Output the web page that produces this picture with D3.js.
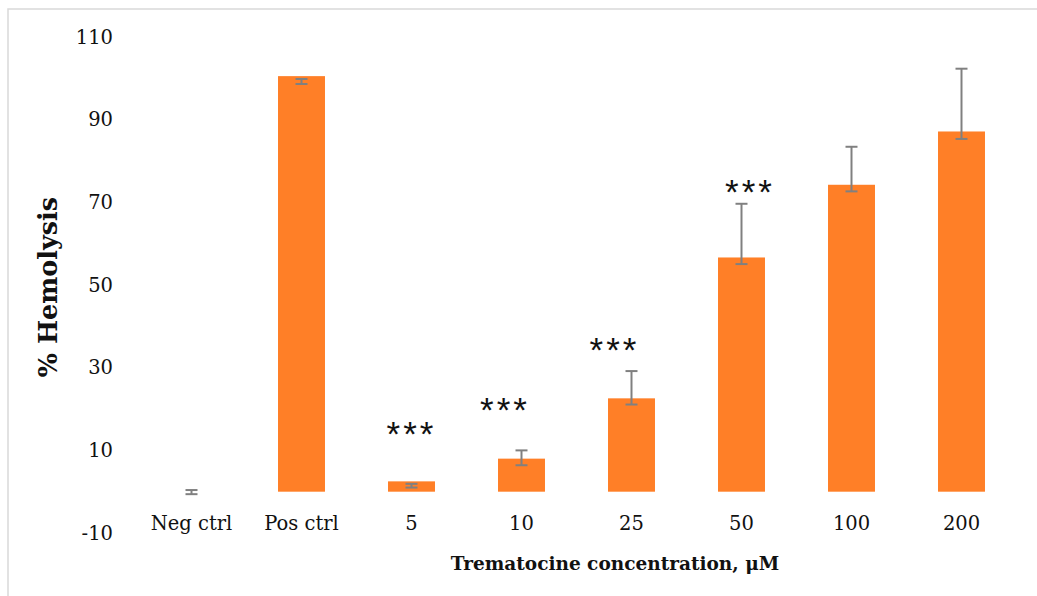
<!DOCTYPE html>
<html><head><meta charset="utf-8">
<script src="https://cdn.jsdelivr.net/npm/d3@7"></script>
<style>body{margin:0;background:#fff}svg{display:block}</style>
</head><body>
<script>
// ---- data ----
const categories = ["Neg ctrl","Pos ctrl","5","10","25","50","100","200"];
const hemolysis  = [0, 100.6, 2.5, 8.0, 22.6, 56.7, 74.3, 87.2];
const errLow     = [-0.6, 98.7, 1.0, 6.4, 21.1, 55.1, 72.7, 85.4];
const errHigh    = [0.4, 99.9, 1.9, 10.0, 29.2, 69.7, 83.5, 102.4];
const yTicks     = [-10, 10, 30, 50, 70, 90, 110];
const starCats   = ["5","10","25","50"];
const starLevel  = [15.0, 20.8, 35.2, 73.6];
const starText   = "***";

const W = 1037, H = 596;
const svg = d3.select("body").append("svg").attr("width", W).attr("height", H);
const font = "'DejaVu Serif', serif";

svg.append("rect").attr("x", 8).attr("y", 9).attr("width", W).attr("height", H)
  .attr("fill", "none").attr("stroke", "#d9d9d9").attr("stroke-width", 1.5);

const x = d3.scaleBand().domain(categories).range([136.5, 1016.5]).paddingInner(0.573).paddingOuter(0.2865);
const y = d3.scaleLinear().domain([-10, 110]).range([533, 37.3]);

// y axis labels
const yAxis = d3.axisLeft(y).tickValues(yTicks).tickSize(0).tickPadding(0).tickFormat(d => String(d));
const ya = svg.append("g").attr("transform", "translate(113,0)").call(yAxis);
ya.select(".domain").remove();
ya.selectAll("text").attr("font-family", font).attr("font-size", 19.5).attr("fill", "#111")
  .attr("dy", null).attr("dominant-baseline", "auto").attr("y", 6);

// x axis labels
const xAxis = d3.axisBottom(x).tickSize(0).tickPadding(0);
const xa = svg.append("g").call(xAxis);
xa.select(".domain").remove();
xa.selectAll("text").attr("font-family", font).attr("font-size", 19.5).attr("fill", "#111")
  .attr("dy", null).attr("y", 530);

// bars
const idx = d3.range(categories.length);
svg.append("g").selectAll("rect").data(idx).join("rect")
  .attr("x", i => x(categories[i]))
  .attr("width", x.bandwidth())
  .attr("y", i => y(Math.max(0, hemolysis[i])))
  .attr("height", i => Math.abs(y(hemolysis[i]) - y(0)))
  .attr("fill", "#FF7F27");

// error bars
const eb = svg.append("g").attr("stroke", "#808080").attr("stroke-width", 2).attr("fill", "none");
const cap = 6;
idx.forEach(i => {
  const cx = x(categories[i]) + x.bandwidth() / 2;
  eb.append("line").attr("x1", cx).attr("x2", cx).attr("y1", y(errLow[i])).attr("y2", y(errHigh[i]));
  eb.append("line").attr("x1", cx - cap).attr("x2", cx + cap).attr("y1", y(errLow[i])).attr("y2", y(errLow[i]));
  eb.append("line").attr("x1", cx - cap).attr("x2", cx + cap).attr("y1", y(errHigh[i])).attr("y2", y(errHigh[i]));
});

// significance stars
const starDx = [-1.5, -18, -18.5, 7];
svg.append("g").selectAll("text").data(starCats).join("text")
  .attr("x", (c, i) => x(c) + x.bandwidth() / 2 + starDx[i] + 1.5)
  .attr("y", (c, i) => y(starLevel[i]) + 16)
  .attr("text-anchor", "middle")
  .attr("letter-spacing", 3)
  .attr("font-family", "'Liberation Sans', sans-serif").attr("font-size", 35).attr("fill", "#111")
  .text(starText);

// axis titles
svg.append("text").attr("transform", "translate(57,287) rotate(-90)")
  .attr("text-anchor", "middle").attr("font-family", font).attr("font-weight", "bold")
  .attr("font-size", 25.5).attr("fill", "#111").text("% Hemolysis");
svg.append("text").attr("x", 615).attr("y", 570)
  .attr("text-anchor", "middle").attr("font-family", font).attr("font-weight", "bold")
  .attr("font-size", 18.5).attr("fill", "#111").text("Trematocine concentration, μM");
</script>
</body></html>
